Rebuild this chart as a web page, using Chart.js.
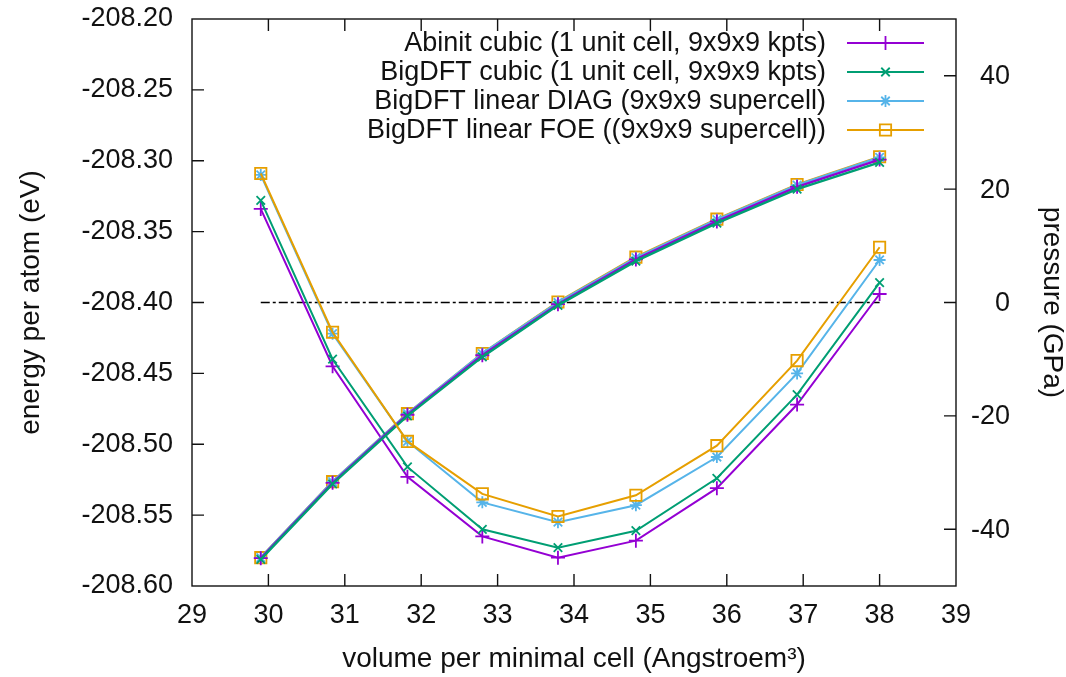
<!DOCTYPE html>
<html><head><meta charset="utf-8">
<script src="https://cdn.jsdelivr.net/npm/chart.js@4/dist/chart.umd.min.js"></script>
<style>html,body{margin:0;padding:0;background:#fff}#wrap{width:1066px;height:677px;position:relative}</style>
</head><body><div id="wrap"><canvas id="c"></canvas></div>
<script>
// ---- data ----
const volumes = [29.9, 30.84, 31.82, 32.8, 33.79, 34.81, 35.87, 36.92, 38.0];
const seriesNames = [
  'Abinit cubic (1 unit cell, 9x9x9 kpts)',
  'BigDFT cubic (1 unit cell, 9x9x9 kpts)',
  'BigDFT linear DIAG (9x9x9 supercell)',
  'BigDFT linear FOE ((9x9x9 supercell))'
];
const energyAbinit      = [-208.334, -208.445, -208.523, -208.565, -208.580, -208.568, -208.531, -208.472, -208.394];
const energyBigdftCubic = [-208.328, -208.440, -208.516, -208.560, -208.573, -208.561, -208.524, -208.465, -208.386];
const energyDiag        = [-208.310, -208.422, -208.498, -208.541, -208.555, -208.543, -208.509, -208.450, -208.370];
const energyFoe         = [-208.309, -208.421, -208.498, -208.535, -208.551, -208.536, -208.501, -208.441, -208.361];
const pressureAbinit      = [-45.1, -31.8, -19.8, -9.3, -0.3, 7.6, 14.3, 20.4, 25.2];
const pressureBigdftCubic = [-45.3, -32.0, -20.0, -9.6, -0.5, 7.3, 14.0, 20.0, 24.7];
const pressureDiag        = [-45.0, -31.6, -19.6, -9.0, 0.0, 7.9, 14.6, 20.7, 25.6];
const pressureFoe         = [-45.0, -31.6, -19.6, -9.0, 0.1, 8.0, 14.7, 20.8, 25.7];
const zeroLineX = [29.9, 38.0];
const zeroLineP = [0, 0];
const volumeTicks = [29, 30, 31, 32, 33, 34, 35, 36, 37, 38, 39];
const energyTicks = [-208.60, -208.55, -208.50, -208.45, -208.40, -208.35, -208.30, -208.25, -208.20];
const pressureTicks = [-40, -20, 0, 20, 40];

// ---- styles ----
const colors = ['#9400d3', '#009e73', '#56b4e9', '#e69f00'];
const markers = ['cross', 'crossRot', 'star', 'rect'];
const radii = [7, 6, 6, 8];
const energies = [energyAbinit, energyBigdftCubic, energyDiag, energyFoe];
const pressures = [pressureAbinit, pressureBigdftCubic, pressureDiag, pressureFoe];
const pressOrder = [2, 1, 3, 4];

const pts = (xs, ys) => xs.map((x, i) => ({x: x, y: ys[i]}));
const datasets = [];
energies.forEach((e, i) => {
  datasets.push({
    label: seriesNames[i], data: pts(volumes, e), yAxisID: 'y', showInLegend: true,
    borderColor: colors[i], borderWidth: 2, pointStyle: markers[i], pointRadius: radii[i],
    pointBorderColor: colors[i], pointBackgroundColor: 'rgba(0,0,0,0)', pointBorderWidth: 1.8,
    order: 4 - i, fill: false, tension: 0
  });
});
pressures.forEach((p, i) => {
  datasets.push({
    label: seriesNames[i] + ' pressure', data: pts(volumes, p), yAxisID: 'y2',
    borderColor: colors[i], borderWidth: 2.4, pointStyle: markers[i], pointRadius: radii[i],
    pointBorderColor: colors[i], pointBackgroundColor: 'rgba(0,0,0,0)', pointBorderWidth: 1.8,
    order: pressOrder[i], fill: false, tension: 0
  });
});
datasets.push({
  label: 'p = 0', data: pts(zeroLineX, zeroLineP), yAxisID: 'y2',
  borderColor: '#000', borderWidth: 1.6, borderDash: [9, 3, 3, 3], pointRadius: 0, order: 10
});

const FONT = "'Liberation Sans', Arial, Helvetica, sans-serif";
Chart.defaults.font.family = FONT;
Chart.defaults.color = '#111';

const frame = {
  id: 'frame',
  afterDatasetsDraw(chart) {
    const {ctx, chartArea: a, scales} = chart;
    ctx.save();
    ctx.strokeStyle = '#111';
    ctx.lineWidth = 1.4;
    ctx.strokeRect(a.left, a.top, a.right - a.left, a.bottom - a.top);
    const L = 12;
    ctx.beginPath();
    scales.x.ticks.forEach(t => {
      const px = scales.x.getPixelForValue(t.value);
      if (px <= a.left + 1 || px >= a.right - 1) return;
      ctx.moveTo(px, a.bottom); ctx.lineTo(px, a.bottom - L);
      ctx.moveTo(px, a.top); ctx.lineTo(px, a.top + L);
    });
    scales.y.ticks.forEach(t => {
      const py = scales.y.getPixelForValue(t.value);
      if (py <= a.top + 1 || py >= a.bottom - 1) return;
      ctx.moveTo(a.left, py); ctx.lineTo(a.left + L, py);
    });
    scales.y2.ticks.forEach(t => {
      const py = scales.y2.getPixelForValue(t.value);
      ctx.moveTo(a.right, py); ctx.lineTo(a.right - L, py);
    });
    ctx.stroke();
    // right axis tick labels (right-aligned like the reference)
    ctx.font = "27px " + FONT;
    ctx.fillStyle = '#111';
    ctx.textAlign = 'right';
    ctx.textBaseline = 'middle';
    scales.y2.ticks.forEach(t => {
      const py = scales.y2.getPixelForValue(t.value);
      ctx.fillText(String(t.value), 1010, py + 1);
    });
    ctx.restore();
  },
  afterDraw(chart) {
    const {ctx} = chart;
    const textRight = 826, x0 = 847, x1 = 924, y0 = 43, dy = 29;
    ctx.save();
    ctx.font = "27px " + FONT;
    ctx.textAlign = 'right';
    ctx.textBaseline = 'middle';
    let row = 0;
    chart.data.datasets.forEach(ds => {
      if (!ds.showInLegend) return;
      const y = y0 + row * dy;
      ctx.fillStyle = '#111';
      ctx.fillText(ds.label, textRight, y + 1);
      ctx.strokeStyle = ds.borderColor; ctx.lineWidth = 2;
      ctx.beginPath(); ctx.moveTo(x0, y); ctx.lineTo(x1, y); ctx.stroke();
      ctx.lineWidth = ds.pointBorderWidth;
      ctx.fillStyle = 'rgba(0,0,0,0)';
      Chart.helpers.drawPoint(ctx, {pointStyle: ds.pointStyle, radius: ds.pointRadius, rotation: 0, borderWidth: ds.pointBorderWidth}, (x0 + x1) / 2, y);
      row++;
    });
    ctx.restore();
  }
};

new Chart(document.getElementById('c'), {
  type: 'line',
  data: {datasets: datasets},
  plugins: [frame],
  options: {
    responsive: true, maintainAspectRatio: false, animation: false, devicePixelRatio: 1,
    layout: {padding: {top: 19, left: 0, right: 0, bottom: 0}},
    plugins: {legend: {display: false}, tooltip: {enabled: false}},
    scales: {
      x: {
        type: 'linear', min: 29, max: 39,
        afterBuildTicks: s => { s.ticks = volumeTicks.map(v => ({value: v})); },
        afterFit: s => { s.height = 91; s.paddingLeft = 0; s.paddingRight = 0; },
        grid: {display: false}, border: {display: false},
        ticks: {font: {size: 27}, padding: 5, maxRotation: 0, autoSkip: false, color: '#111'},
        title: {display: true, text: 'volume per minimal cell (Angstroem³)', font: {size: 28, lineHeight: 1}, padding: {top: 0, bottom: 4}, color: '#111'}
      },
      y: {
        type: 'linear', position: 'left', min: -208.6, max: -208.2,
        afterBuildTicks: s => { s.ticks = energyTicks.map(v => ({value: v})); },
        afterFit: s => { s.width = 192; s.paddingTop = 0; s.paddingBottom = 0; },
        grid: {display: false}, border: {display: false},
        ticks: {font: {size: 27}, padding: 11, color: '#111', callback: v => v.toFixed(2)},
        title: {display: true, text: 'energy per atom (eV)', font: {size: 28, lineHeight: 1}, padding: {top: 17, bottom: 0}, color: '#111'}
      },
      y2: {
        type: 'linear', position: 'right', min: -50, max: 50,
        afterBuildTicks: s => { s.ticks = pressureTicks.map(v => ({value: v})); },
        afterFit: s => { s.width = 110; s.paddingTop = 0; s.paddingBottom = 0; },
        grid: {display: false}, border: {display: false},
        ticks: {display: false},
        title: {display: true, text: 'pressure (GPa)', font: {size: 28, lineHeight: 1}, padding: {top: 0, bottom: 0}, color: '#111'}
      }
    }
  }
});
</script>
</body></html>
